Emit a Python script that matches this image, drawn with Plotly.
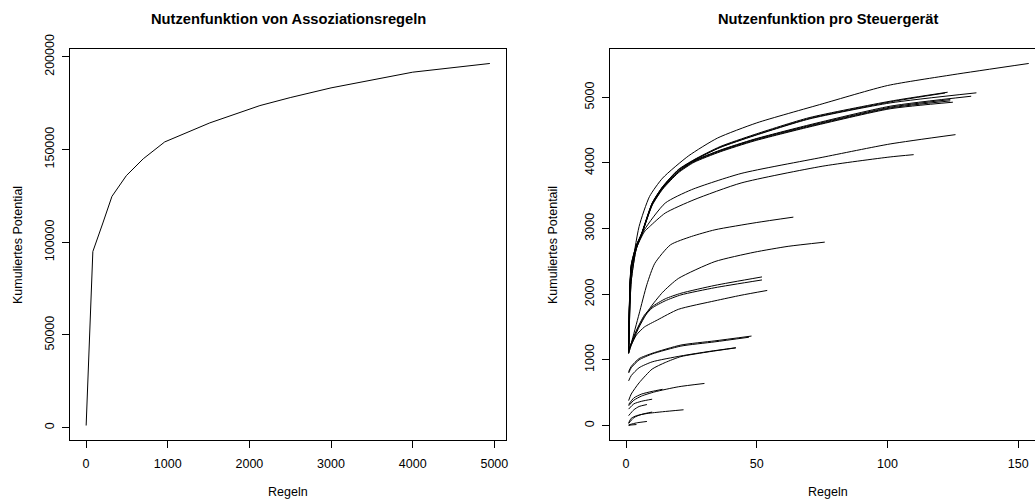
import plotly.graph_objects as go

# ---------------- Left panel: Nutzenfunktion von Assoziationsregeln ----------------
rules_x = [1, 83, 206, 317, 493, 700, 963, 1515, 2129, 2500, 3000, 3500, 4000, 4945]
rules_potential = [1178, 95000, 110400, 124730, 135907, 145000, 154100, 164360, 173700,
                   178000, 183243, 187500, 191712, 196400]

# ---------------- Right panel: Nutzenfunktion pro Steuergerät ----------------
ecu01_x = [1, 2, 5, 9, 14, 24, 35, 50, 75, 100, 125, 154]
ecu01_y = [1150, 2300, 3032, 3490, 3770, 4111, 4380, 4611, 4900, 5180, 5345, 5516]
ecu02_x = [1, 2, 4, 6, 10, 14, 20, 26, 36, 49, 70, 101, 123]
ecu02_y = [1250, 2450, 2750, 2930, 3390, 3640, 3900, 4050, 4250, 4432, 4690, 4941, 5078]
ecu03_x = [1, 2, 4, 6, 10, 14, 20, 26, 36, 49, 70, 101, 122]
ecu03_y = [1240, 2440, 2745, 2925, 3385, 3635, 3893, 4042, 4240, 4420, 4678, 4930, 5066]
ecu04_x = [1, 2, 4, 6, 10, 14, 20, 26, 36, 49, 70, 101, 124]
ecu04_y = [1200, 2400, 2720, 2920, 3370, 3620, 3870, 4030, 4190, 4356, 4569, 4850, 4966]
ecu05_x = [1, 2, 4, 6, 10, 14, 20, 26, 36, 49, 70, 101, 124]
ecu05_y = [1190, 2390, 2712, 2912, 3362, 3610, 3860, 4020, 4180, 4345, 4558, 4838, 4946]
ecu06_x = [1, 2, 4, 6, 10, 14, 20, 26, 36, 49, 70, 101, 125]
ecu06_y = [1180, 2380, 2705, 2905, 3355, 3600, 3850, 4010, 4170, 4335, 4548, 4826, 4926]
ecu07_x = [1, 2, 4, 6, 10, 14, 20, 26, 36, 49, 70, 101, 134]
ecu07_y = [1230, 2430, 2742, 2925, 3382, 3632, 3890, 4043, 4236, 4415, 4670, 4915, 5069]
ecu08_x = [1, 2, 4, 6, 10, 14, 20, 26, 36, 49, 70, 101, 132]
ecu08_y = [1200, 2400, 2722, 2918, 3372, 3622, 3872, 4032, 4195, 4362, 4580, 4865, 5017]
ecu09_x = [1, 2, 4, 7, 15, 25, 44, 75, 101, 126]
ecu09_y = [1100, 2200, 2700, 2980, 3389, 3592, 3840, 4086, 4290, 4432]
ecu10_x = [1, 2, 4, 7, 9, 15, 26, 44, 75, 101, 110]
ecu10_y = [1100, 2200, 2700, 2950, 3030, 3237, 3440, 3695, 3950, 4092, 4127]
ecu11_x = [1, 2, 5, 8, 11, 17, 25, 34, 50, 64]
ecu11_y = [1100, 1250, 1700, 2150, 2470, 2753, 2880, 2982, 3093, 3175]
ecu12_x = [1, 2, 5, 9, 14, 20, 34, 49, 62, 76]
ecu12_y = [1100, 1220, 1500, 1780, 2030, 2240, 2498, 2640, 2730, 2794]
ecu13_x = [1, 2, 4, 7, 10, 15, 21, 34, 52]
ecu13_y = [1150, 1250, 1450, 1680, 1810, 1930, 2015, 2135, 2264]
ecu14_x = [1, 2, 4, 7, 10, 15, 21, 34, 52]
ecu14_y = [1150, 1250, 1440, 1660, 1790, 1900, 1990, 2100, 2218]
ecu15_x = [1, 2, 4, 7, 12, 20, 34, 44, 54]
ecu15_y = [1150, 1230, 1380, 1500, 1608, 1770, 1900, 1985, 2058]
ecu16_x = [1, 2, 5, 10, 21, 34, 48]
ecu16_y = [820, 900, 1020, 1100, 1226, 1290, 1363]
ecu17_x = [1, 2, 5, 10, 21, 34, 47]
ecu17_y = [800, 880, 1000, 1090, 1210, 1275, 1345]
ecu18_x = [1, 2, 5, 10, 21, 32, 42]
ecu18_y = [680, 760, 880, 970, 1060, 1130, 1185]
ecu19_x = [1, 2, 5, 10, 15, 21, 32, 42]
ecu19_y = [380, 480, 650, 860, 960, 1050, 1125, 1183]
ecu20_x = [1, 3, 6, 11, 20, 30]
ecu20_y = [300, 386, 450, 513, 590, 641]
ecu21_x = [1, 3, 6, 10, 14]
ecu21_y = [320, 420, 480, 520, 552]
ecu22_x = [1, 3, 6, 10]
ecu22_y = [250, 330, 370, 401]
ecu23_x = [1, 3, 5, 8]
ecu23_y = [150, 240, 290, 320]
ecu24_x = [1, 2, 4, 8, 14, 22]
ecu24_y = [40, 110, 150, 183, 210, 240]
ecu25_x = [1, 3, 6, 10]
ecu25_y = [30, 120, 170, 205]
ecu26_x = [1, 4, 8]
ecu26_y = [10, 40, 62]
ecu27_x = [1, 2, 4]
ecu27_y = [0, 8, 15]

ecu_series = [
    (ecu01_x, ecu01_y), (ecu02_x, ecu02_y), (ecu03_x, ecu03_y), (ecu04_x, ecu04_y),
    (ecu05_x, ecu05_y), (ecu06_x, ecu06_y), (ecu07_x, ecu07_y), (ecu08_x, ecu08_y),
    (ecu09_x, ecu09_y), (ecu10_x, ecu10_y), (ecu11_x, ecu11_y), (ecu12_x, ecu12_y),
    (ecu13_x, ecu13_y), (ecu14_x, ecu14_y), (ecu15_x, ecu15_y), (ecu16_x, ecu16_y),
    (ecu17_x, ecu17_y), (ecu18_x, ecu18_y), (ecu19_x, ecu19_y), (ecu20_x, ecu20_y),
    (ecu21_x, ecu21_y), (ecu22_x, ecu22_y), (ecu23_x, ecu23_y), (ecu24_x, ecu24_y),
    (ecu25_x, ecu25_y), (ecu26_x, ecu26_y), (ecu27_x, ecu27_y),
]

left_xticks = [0, 1000, 2000, 3000, 4000, 5000]
left_yticks = [0, 50000, 100000, 150000, 200000]
right_xticks = [0, 50, 100, 150]
right_yticks = [0, 1000, 2000, 3000, 4000, 5000]

FONT = "Liberation Sans, Arial, Helvetica, sans-serif"
W, H = 1035, 500

fig = go.Figure()
fig.add_trace(go.Scatter(x=rules_x, y=rules_potential, mode="lines",
                         line=dict(color="black", width=1), xaxis="x", yaxis="y",
                         showlegend=False, hoverinfo="skip"))
for sx, sy in ecu_series:
    fig.add_trace(go.Scatter(x=sx, y=sy, mode="lines",
                             line=dict(color="black", width=1, shape="spline", smoothing=0.6),
                             xaxis="x2", yaxis="y2",
                             showlegend=False, hoverinfo="skip"))

axis_common = dict(showgrid=False, zeroline=False, showline=True, linecolor="black",
                   linewidth=1, ticks="outside", ticklen=7, tickwidth=1, tickcolor="black",
                   automargin=False,
                   tickfont=dict(family=FONT, size=12.5, color="black"))

fig.update_layout(
    width=W, height=H, autosize=False,
    margin=dict(l=0, r=0, t=0, b=0, pad=0),
    paper_bgcolor="white", plot_bgcolor="white",
    xaxis=dict(domain=[70 / W, 506 / W], range=[-196.8, 5142.8], tickvals=left_xticks,
               ticktext=[str(v) for v in left_xticks], mirror=True, anchor="y",
               ticklabelstandoff=5, **axis_common),
    yaxis=dict(domain=[60 / H, 451 / H], range=[-6631, 204209], tickvals=left_yticks,
               ticktext=[str(v) for v in left_yticks], mirror=True, anchor="x",
               tickangle=-90, ticklabelstandoff=3, **axis_common),
    xaxis2=dict(domain=[610 / W, 1.0], range=[-6.12, 156.4], tickvals=right_xticks,
                ticktext=[str(v) for v in right_xticks], mirror=True, anchor="y2",
                ticklabelstandoff=5, **axis_common),
    yaxis2=dict(domain=[60 / H, 451 / H], range=[-220.6, 5736.6], tickvals=right_yticks,
                ticktext=[str(v) for v in right_yticks], mirror=False, anchor="x2",
                tickangle=-90, ticklabelstandoff=3, **axis_common),
    hovermode=False,
)

def ann(text, x_px, y_px, size, bold=False, angle=0):
    fig.add_annotation(text=f"<b>{text}</b>" if bold else text,
                       x=x_px / W, y=1 - y_px / H, xref="paper", yref="paper",
                       xanchor="center", yanchor="middle", showarrow=False,
                       textangle=angle, font=dict(family=FONT, size=size, color="black"))

ann("Nutzenfunktion von Assoziationsregeln", 288, 19, 14.7, bold=True)
ann("Nutzenfunktion pro Steuergerät", 828, 19, 14.7, bold=True)
ann("Regeln", 288, 492, 12.5)
ann("Regeln", 828, 492, 12.5)
ann("Kumuliertes Potential", 18, 245, 12.5, angle=-90)
ann("Kumuliertes Potentail", 553, 245, 12.5, angle=-90)

fig.write_html(
    "out.html",
    config={"staticPlot": True},
    post_script="document.body.style.margin='0';document.body.style.overflow='hidden';",
)
